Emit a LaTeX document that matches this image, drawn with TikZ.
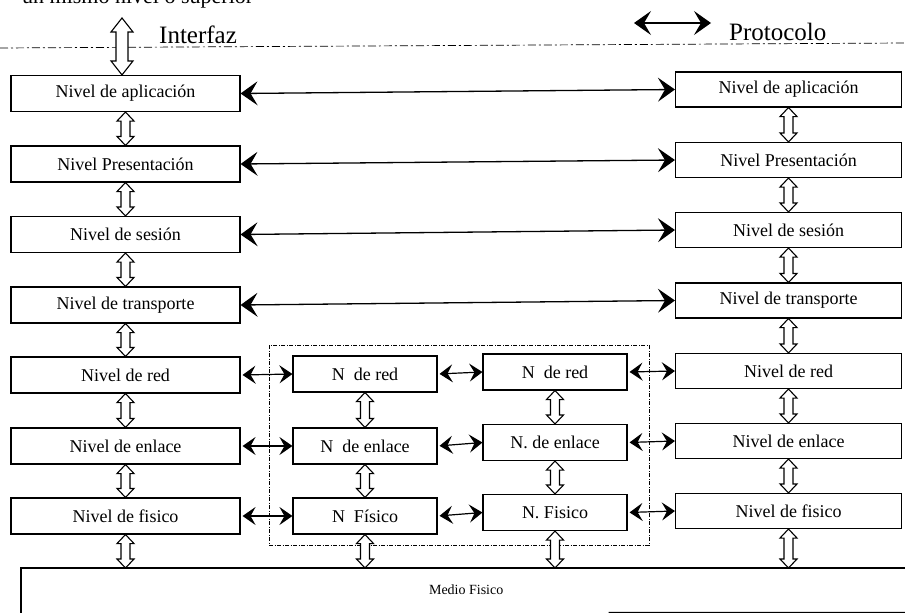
\documentclass[tikz,border=0pt]{standalone}
\usepackage{fontspec}
\setmainfont{Liberation Serif}
\usetikzlibrary{arrows.meta,calc}
\tikzset{
  layerbox/.style={draw, line width=1.1pt, rectangle, inner sep=0pt,
    font=\fontsize{18}{20}\selectfont},
  leftbox/.style={layerbox, minimum width=229pt, minimum height=36pt},
  rightbox/.style={layerbox, minimum width=226pt, minimum height=35pt},
  midbox/.style={layerbox, minimum width=144pt, minimum height=36pt},
  hollowarrow/.style={draw, line width=1.1pt, fill=white, line join=miter},
  bigarrow/.style={line width=1.3pt, {Stealth[length=17pt,width=24pt,inset=7pt]}-{Stealth[length=17pt,width=24pt,inset=7pt]}},
  smallarrow/.style={line width=1.2pt, shorten <=2pt, {Stealth[length=13pt,width=18pt,inset=5pt]}-{Stealth[length=13pt,width=18pt,inset=5pt]}},
  titletext/.style={font=\fontsize{25}{27}\selectfont, inner sep=0pt},
  boundary/.style={line width=0.7pt, dash pattern=on 8pt off 3pt on 2pt off 3pt},
  regionline/.style={line width=0.9pt, dash pattern=on 4pt off 1.5pt on 1pt off 1.5pt}
}
% hollow double-headed vertical arrow: top, bottom, half shaft, half head, head length
\newcommand\vdarrow[5]{%
  \draw[hollowarrow] let \p1=(#1), \p2=(#2) in
    (\x1,\y1) -- ({\x1+#4},{\y1-#5}) -- ({\x1+#3},{\y1-#5}) -- ({\x1+#3},{\y2+#5})
    -- ({\x1+#4},{\y2+#5}) -- (\x1,\y2) -- ({\x1-#4},{\y2+#5}) -- ({\x1-#3},{\y2+#5})
    -- ({\x1-#3},{\y1-#5}) -- ({\x1-#4},{\y1-#5}) -- cycle;}
\begin{document}
\begin{tikzpicture}[x=1pt,y=-1pt]
\clip (0,0) rectangle (905,613);
\fill[white] (0,0) rectangle (905,613);

% cut-off text at top
\node[anchor=base west, font=\fontsize{22}{24}\selectfont, inner sep=0pt] (toptext) at (22,4) {un mismo nivel o superior};

% interface boundary line and labels
\draw[boundary] (0,48) -- (905,43);
\node[titletext, anchor=base west] (interfaz) at (159,43) {Interfaz};
\node[titletext, anchor=base west] (protocolo) at (729,40) {Protocolo};
\coordinate (legA) at (634,23);
\coordinate (legB) at (711,23);
\draw[bigarrow] (legA) -- (legB);

% left stack
\node[leftbox] (l1) at (125.5,93.5) {Nivel de aplicación};
\node[leftbox] (l2) at (125.5,164) {Nivel Presentación};
\node[leftbox] (l3) at (125.5,234.5) {Nivel de sesión};
\node[leftbox] (l4) at (125.5,305) {Nivel de transporte};
\node[leftbox] (l5) at (125.5,375) {Nivel de red};
\node[leftbox] (l6) at (125.5,446) {Nivel de enlace};
\node[leftbox] (l7) at (125.5,516) {Nivel de fisico};

% right stack
\node[rightbox] (r1) at (788.5,89.5) {Nivel de aplicación};
\node[rightbox] (r2) at (788.5,160) {Nivel Presentación};
\node[rightbox] (r3) at (788.5,230) {Nivel de sesión};
\node[rightbox] (r4) at (788.5,300.5) {Nivel de transporte};
\node[rightbox] (r5) at (788.5,371) {Nivel de red};
\node[rightbox] (r6) at (788.5,441) {Nivel de enlace};
\node[rightbox] (r7) at (788.5,511) {Nivel de fisico};

% intermediate nodes
\node[midbox] (a5) at (365,374) {N\ \ de red};
\node[midbox] (a6) at (365,446) {N\ \ de enlace};
\node[midbox] (a7) at (365,516) {N\ \ Físico};
\node[midbox] (b5) at (555,372) {N\ \ de red};
\node[midbox] (b6) at (555,442.5) {N. de enlace};
\node[midbox] (b7) at (555,512.5) {N. Fisico};

% dotted region round intermediate nodes
\draw[regionline] (269,345) rectangle (649,545);

% physical medium
\node[rectangle, minimum width=890pt, minimum height=44pt, inner sep=0pt, anchor=north west,
  font=\fontsize{14}{16}\selectfont] (medio) at (21,568) {Medio Fisico};
\draw[line width=1.1pt] ([yshift=-3pt]medio.south west) -- (medio.north west) -- (medio.north east);
\draw[line width=1.1pt] ($(medio.south west)!0.66!(medio.south east)$) -- (medio.south east);

% peer protocol arrows
\draw[bigarrow] (l1.east) -- (r1.west);
\draw[bigarrow] (l2.east) -- (r2.west);
\draw[bigarrow] (l3.east) -- (r3.west);
\draw[bigarrow] (l4.east) -- (r4.west);
\foreach \r in {5,6,7}{
  \draw[smallarrow] (l\r.east) -- (a\r.west);
  \draw[smallarrow] (a\r.east) -- (b\r.west);
  \draw[smallarrow] (b\r.east) -- (r\r.west);
}

% interface arrows
\coordinate (iftop) at (122,18);
\vdarrow{iftop}{iftop |- l1.north}{6pt}{11pt}{14pt}
\foreach \a/\b in {l1/l2,l2/l3,l3/l4,l4/l5,l5/l6,l6/l7,
                   r1/r2,r2/r3,r3/r4,r4/r5,r5/r6,r6/r7,
                   a5/a6,a6/a7,b5/b6,b6/b7}{
  \vdarrow{\a.south}{\b.north}{4.5pt}{8.5pt}{9pt}
}
\foreach \a in {l7,a7,b7,r7}{
  \vdarrow{\a.south}{\a.south |- medio.north}{4.5pt}{8.5pt}{9pt}
}
\end{tikzpicture}
\end{document}
